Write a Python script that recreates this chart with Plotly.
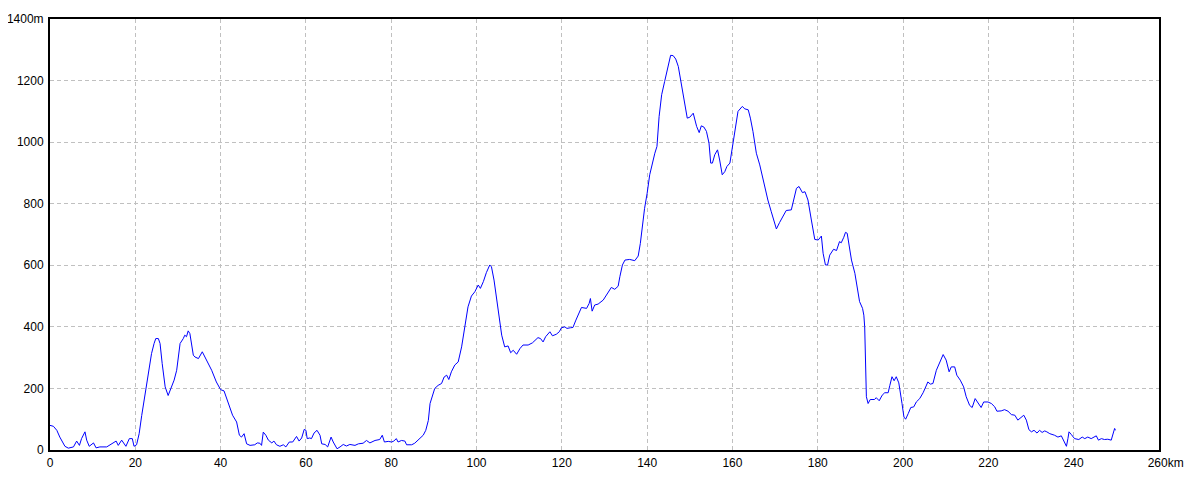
import plotly.graph_objects as go

distance_km = [
    0, 0.8, 1.6, 2.3, 3.5, 4.3, 5.5, 6.25, 6.9, 7.4, 8.2, 8.6, 9.2, 10.2, 10.8, 11.7, 13.3, 14.5, 15.5, 16, 16.8, 17.8,
    18.6, 19.3, 19.7, 20.3, 20.9, 21.5, 22.3, 23, 23.8, 24.4, 24.8, 25.4, 25.8, 26.3, 27, 27.7, 28.3, 29.1, 29.7,
    30.5, 31.25, 31.6, 32, 32.4, 32.8, 33.6, 34, 34.8, 35.7, 36.7, 37.9, 39, 40, 40.8, 41.4, 42.2, 42.8, 43.75,
    44.4, 44.9, 45.5, 46.1, 46.9, 48, 48.6, 49.2, 49.6, 50, 50.6, 51.2, 52, 52.5, 53.1, 53.9, 54.7, 55.3, 56.1,
    56.9, 57.8, 58.4, 59, 59.6, 60, 60.3, 60.9, 61.3, 61.9, 62.6, 63.3, 63.7, 64.5, 65.1, 65.9, 66.4, 67.3, 68,
    68.75, 69.5, 70.3, 71.5, 72.3, 73.4, 74.2, 75, 76.2, 77.3, 77.9, 78.4, 79.3, 80.1, 80.6, 81.2, 81.6, 82.4,
    83.2, 83.6, 84.8, 85.5, 86.7, 87.5, 88.1, 88.7, 89.1, 89.7, 90.2, 91, 91.8, 92.4, 93, 93.5, 94.1, 94.9, 95.7,
    96.5, 97.3, 98, 98.8, 99.6, 100.4, 100.9, 101.6, 102.3, 103.1, 103.5, 104.1, 104.7, 105.3, 105.9, 106.6,
    107.4, 108, 108.6, 109.4, 110.2, 110.9, 112.1, 113.1, 113.7, 114.4, 115, 115.6, 116.2, 117.2, 117.8, 118.7,
    119.4, 119.9, 120.7, 121.2, 122, 122.6, 123.3, 124.1, 124.6, 125.8, 126.4, 126.7, 127.1, 127.7, 128.5, 129.7,
    130.5, 131.6, 132.4, 133.2, 133.6, 134.2, 134.8, 135.9, 137.1, 137.9, 138.4, 138.9, 139.4, 140, 140.6, 141.8,
    142.3, 142.8, 143.4, 144.1, 144.9, 145.5, 146.1, 146.7, 147.3, 148.0, 148.8, 149.4, 150, 150.8, 151.6, 152.2,
    152.7, 153.3, 153.9, 154.5, 154.9, 155.3, 155.85, 156.5, 157, 157.6, 158.2, 158.7, 159.4, 160, 160.5, 161.3,
    162.3, 162.9, 163.7, 164.2, 164.8, 165.6, 166.4, 167, 167.6, 168.3, 169.1, 169.75, 170.3, 171.05, 171.9,
    172.6, 173.8, 174.4, 175, 175.6, 176.4, 177, 177.7, 178.5, 179.3, 180.1, 180.85, 181.25, 181.8, 182.3, 182.8,
    183.7, 184.4, 185.1, 185.5, 186.1, 186.5, 186.9, 187.3, 187.9, 188.7, 189.4, 189.8, 190.5, 190.8, 191,
    191.2, 191.4, 191.8, 192.3, 193.3, 193.7, 194.4, 195.1, 195.7, 196.5, 196.9, 197.4, 197.9, 198.4, 199,
    199.4, 199.75, 200.2, 200.6, 201.2, 201.8, 202.5, 203.1, 203.9, 204.7, 205.5, 205.8, 206.4, 207, 207.8,
    208.6, 209.4, 210.1, 210.8, 211.3, 212.1, 212.6, 213.4, 214.2, 214.8, 215.6, 216.2, 216.9, 217.6, 218.3,
    218.9, 219.9, 220.7, 221.5, 222, 223.0, 223.8, 224.6, 225.4, 226.2, 226.9, 227.7, 228.3, 228.9, 229.5,
    230.1, 230.7, 231.4, 232, 232.6, 233.2, 233.7, 234.4, 235.5, 236.3, 237.1, 237.6, 238.3, 238.65, 238.9,
    239.4, 240.2, 241.2, 242, 242.6, 243.3, 244.1, 244.9, 245.3, 245.8, 246.5, 247.2, 248, 248.8, 249.2, 249.6,
    249.8,
]

elevation_m = [
    80, 77, 64, 42, 12, 6, 10, 29, 15, 37, 59, 32, 12, 23, 7, 10, 10, 20, 29, 15, 32, 12,
    37, 37, 12, 17, 53, 112, 183, 237, 313, 346, 362, 362, 346, 281, 205, 177, 199, 227, 259,
    346, 362, 373, 368, 387, 378, 308, 302, 297, 319, 292, 259, 221, 196, 192, 167, 140, 113, 91,
    48, 42, 53, 20, 15, 17, 23, 22, 15, 58, 48, 32, 23, 29, 17, 12, 17, 10, 26,
    26, 44, 29, 39, 67, 64, 37, 39, 37, 55, 64, 48, 20, 18, 10, 42, 26, 4, 10,
    18, 13, 18, 15, 20, 22, 31, 23, 31, 34, 48, 26, 28, 26, 29, 37, 26, 31,
    29, 17, 17, 22, 37, 48, 64, 96, 151, 183, 200, 210, 216, 237, 243, 229, 254, 276, 286,
    335, 400, 465, 500, 514, 536, 525, 547, 576, 601, 595, 552, 492, 433, 373, 335,
    338, 316, 324, 311, 330, 341, 341, 348, 357, 365, 362, 351, 368, 384, 371, 376,
    384, 397, 400, 395, 397, 398, 422, 444, 463, 460, 476, 492, 451, 471, 474, 487,
    503, 528, 522, 532, 563, 601, 617, 619, 615, 630, 671, 736, 785, 834, 894, 964,
    986, 1083, 1154, 1197, 1251, 1282, 1281, 1270, 1246, 1186, 1127, 1078, 1081, 1094, 1051, 1031,
    1053, 1049, 1035, 997, 932, 932, 959, 975, 942, 894, 904, 921, 932, 986, 1040, 1100,
    1116, 1108, 1105, 1078, 1035, 964, 926, 888, 845, 812, 774, 742, 718, 739, 758,
    778, 780, 815, 850, 856, 836, 839, 812, 747, 684, 682, 695, 639, 601, 601, 633,
    652, 648, 677, 673, 691, 707, 704, 671, 617, 574, 520, 482, 460, 438, 400,
    281, 173, 151, 164, 164, 170, 160, 178, 186, 186, 210, 238, 225, 238, 218,
    189, 151, 107, 100, 118, 138, 140, 156, 167, 186, 211, 221, 214, 216, 259,
    286, 310, 292, 254, 270, 270, 243, 227, 205, 173, 145, 138, 167, 153, 138,
    156, 156, 151, 140, 126, 127, 131, 126, 115, 113, 97, 107, 113, 97, 66,
    59, 64, 55, 64, 57, 62, 59, 53, 48, 42, 46, 32, 12, 37, 59,
    51, 37, 34, 42, 37, 42, 37, 45, 46, 32, 37, 34, 35, 32, 48, 70,
    64,
]

x_tick_vals = [0, 20, 40, 60, 80, 100, 120, 140, 160, 180, 200, 220, 240, 260]
x_tick_text = ["0", "20", "40", "60", "80", "100", "120", "140", "160", "180", "200", "220", "240",
               "&nbsp;&nbsp;&nbsp;&nbsp;260km"]
y_tick_vals = [0, 200, 400, 600, 800, 1000, 1200, 1400]
y_tick_text = ["0", "200", "400", "600", "800", "1000", "1200", "1400m"]

fig = go.Figure()
fig.add_trace(go.Scatter(
    x=distance_km, y=elevation_m, mode="lines",
    line=dict(color="#0000ff", width=1),
    hoverinfo="x+y", showlegend=False,
))

font = dict(family="Liberation Sans, Arial, sans-serif", size=12, color="#000000")

# Page body has an 8px default margin; size the figure so the plot area lands where the reference has it.
fig.update_layout(
    width=1192, height=472,
    margin=dict(l=42, r=41, t=11, b=30, autoexpand=False),
    paper_bgcolor="#ffffff", plot_bgcolor="#ffffff",
    font=font,
    xaxis=dict(
        range=[0, 260], tickmode="array", tickvals=x_tick_vals, ticktext=x_tick_text,
        showgrid=True, gridcolor="#c0c0c0", griddash="4px,3px", gridwidth=1,
        showline=True, linecolor="#000000", linewidth=2, mirror=True,
        ticks="", zeroline=False, tickfont=font, ticklabelstandoff=1, automargin=False,
    ),
    yaxis=dict(
        range=[0, 1400], tickmode="array", tickvals=y_tick_vals, ticktext=y_tick_text,
        showgrid=True, gridcolor="#c0c0c0", griddash="4px,3px", gridwidth=1,
        showline=True, linecolor="#000000", linewidth=2, mirror=True,
        ticks="", zeroline=False, tickfont=font, ticklabelstandoff=2, automargin=False,
    ),
)

fig.write_html("out.html")
